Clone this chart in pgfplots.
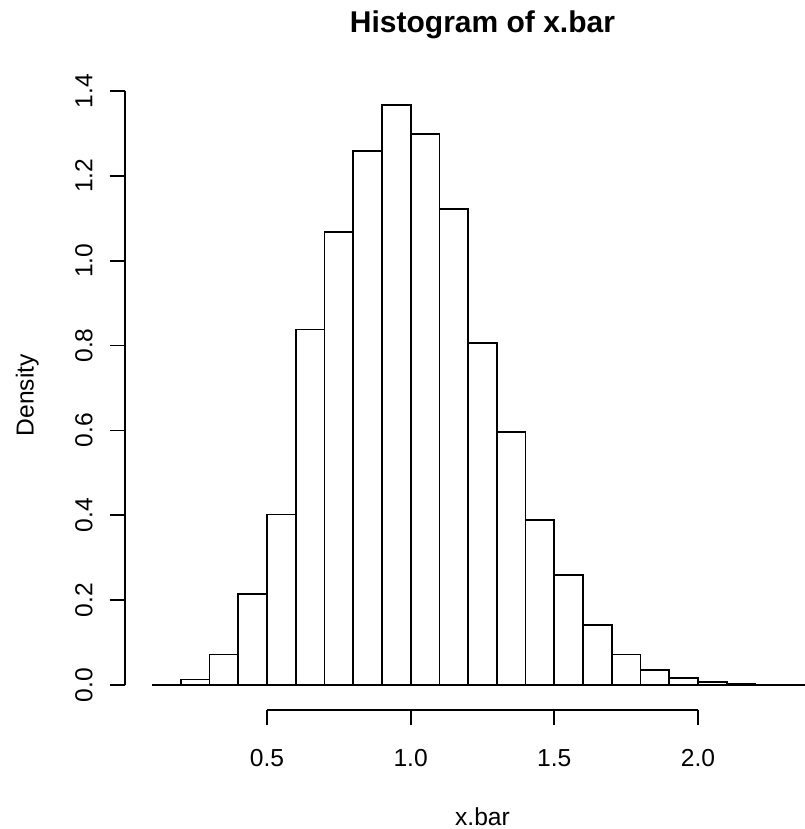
\documentclass[border=0pt]{standalone}
\usepackage{pgfplots}
\usepackage{pgfplotstable}
\pgfplotsset{compat=1.18}
\usepackage{fontspec}
\setmainfont{Liberation Sans}

% density of each bin, left edge first; the last row closes the last bin
\pgfplotstableread{
left density
0.1 0
0.2 0.013
0.3 0.072
0.4 0.214
0.5 0.402
0.6 0.838
0.7 1.068
0.8 1.259
0.9 1.367
1.0 1.298
1.1 1.122
1.2 0.806
1.3 0.597
1.4 0.388
1.5 0.260
1.6 0.142
1.7 0.072
1.8 0.035
1.9 0.016
2.0 0.007
2.1 0.003
2.2 0.001
2.3 0
2.4 0
}\bins

\newcommand\rfont{\fontsize{18.45}{22}\selectfont}

\begin{document}
\begin{tikzpicture}
\useasboundingbox (-93.75pt,-89.25pt) rectangle (510pt,532.5pt);
\begin{axis}[
    at={(0,0)}, anchor=south west,
    scale only axis,
    width=510pt, height=471.2pt,
    xmin=0.00575, xmax=2.3726,
    ymin=-0.0589, ymax=1.4217,
    axis line style={draw=none},
    xtick pos=bottom, ytick pos=left,
    tick align=outside,
    major tick length=11.6pt,
    tick style={black, line width=1.3pt},
    xtick={0.5,1,1.5,2},
    xticklabels={0.5,1.0,1.5,2.0},
    ytick={0,0.2,0.4,0.6,0.8,1.0,1.2,1.4},
    yticklabels={0.0,0.2,0.4,0.6,0.8,1.0,1.2,1.4},
    minor tick num=0,
    /pgf/number format/assume math mode=true,
    tick label style={font=\rfont, text=black},
    xticklabel style={anchor=base},
    xticklabel shift=30.4pt,
    yticklabel style={rotate=90, anchor=base},
    yticklabel shift=12.8pt,
    clip=false,
  ]
  \addplot[ybar interval, draw=black, fill=white, line width=1.3pt]
    table[x=left, y=density] {\bins};

  % R style axis lines, only as long as the ticks
  \draw[black, line width=1.3pt] (axis cs:0.5,-0.0589) -- (axis cs:2,-0.0589);
  \draw[black, line width=1.3pt] (axis cs:0.00575,0) -- (axis cs:0.00575,1.4);

  \node[anchor=base, font=\fontsize{22.5}{26}\selectfont\bfseries]
    at (axis cs:1.25,1.5366) {Histogram of x.bar};
  \node[anchor=base, font=\rfont] at (axis cs:1.25,-0.330) {x.bar};
  \node[anchor=base, rotate=90, font=\rfont] at (axis cs:-0.3127,0.683) {Density};
\end{axis}
\end{tikzpicture}
\end{document}
